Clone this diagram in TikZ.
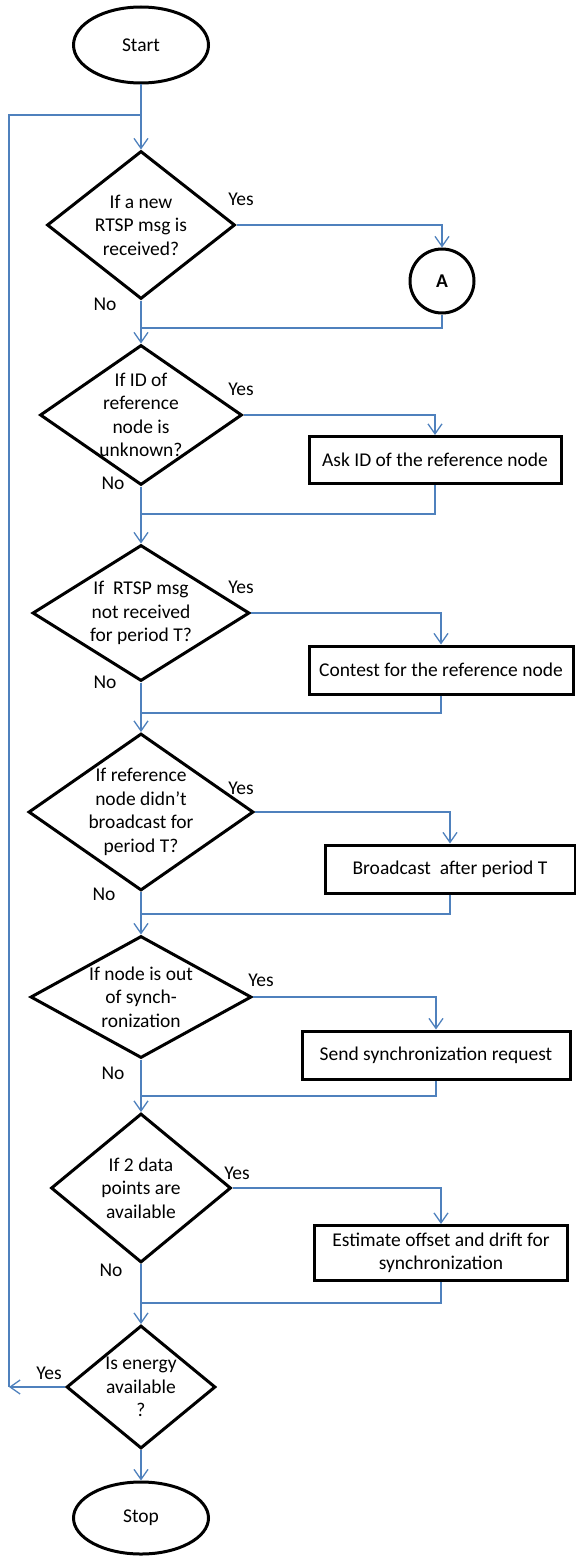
\documentclass[tikz,border=0pt]{standalone}
\usepackage{fontspec}
\setmainfont{Carlito}
\usepackage{tikz}
\usetikzlibrary{shapes.geometric,arrows.meta}

\definecolor{flowblue}{RGB}{79,129,189}

\begin{document}
\begin{tikzpicture}[x=1bp, y=-1bp,
		every node/.style={font=\fontsize{19.5bp}{23.5bp}\selectfont},
		term/.style={draw, ellipse, line width=3bp, inner sep=0pt},
		dec/.style={draw, diamond, line width=3bp, inner sep=0pt},
		proc/.style={draw, rectangle, line width=3bp, align=center, inner sep=0pt},
		txt/.style={align=center, inner sep=0pt},
		flow/.style={draw=flowblue, line width=1.3bp, -{Straight Barb[length=10bp, width=14bp]}},
		link/.style={draw=flowblue, line width=1.3bp}]
		\useasboundingbox (0,0) rectangle (576,1557);

		\node[term, minimum width=135bp, minimum height=76bp] (start) at (141,45) {Start};

		\node[dec, minimum width=188bp, minimum height=148bp] (qmsg) at (141,225) {};
		\node[txt] (qmsgtxt) at (qmsg) {If a new\\RTSP msg is\\received?};
		\node[draw, circle, line width=3bp, minimum size=64bp, inner sep=0pt,
			font=\fontsize{19.5bp}{23.5bp}\selectfont\bfseries] (conA) at (442,281) {A};

		\node[dec, minimum width=202bp, minimum height=140bp] (qid) at (141,415) {};
		\node[txt] (qidtxt) at (qid) {If ID of\\reference\\node is\\unknown?};
		\node[proc, minimum width=252bp, minimum height=47bp] (askid) at (435,460) {Ask ID of the reference node};

		\node[dec, minimum width=217bp, minimum height=136bp] (qrtsp) at (141,613) {};
		\node[txt] (qrtsptxt) at (qrtsp) {If\ \ RTSP msg\\not received\\for period T?};
		\node[proc, minimum width=264bp, minimum height=48bp] (contest) at (441,670) {Contest for the reference node};

		\node[dec, minimum width=225bp, minimum height=157bp] (qbcast) at (141,812) {};
		\node[txt] (qbcasttxt) at (qbcast) {If reference\\node didn’t\\broadcast for\\period T?};
		\node[proc, minimum width=250bp, minimum height=48bp] (bcast) at (450,869) {Broadcast\ \ after period T};

		\node[dec, minimum width=221bp, minimum height=122bp] (qsync) at (141,997) {};
		\node[txt] (qsynctxt) at (qsync) {If node is out\\of synch-\\ronization};
		\node[proc, minimum width=268bp, minimum height=48bp] (sendreq) at (436,1055) {Send synchronization request};

		\node[dec, minimum width=180bp, minimum height=149bp] (qdata) at (141,1188) {};
		\node[txt] (qdatatxt) at (qdata) {If 2 data\\points are\\available};
		\node[proc, minimum width=253bp, minimum height=55bp] (estimate) at (441,1253) {Estimate offset and drift for\\synchronization};

		\node[dec, minimum width=149bp, minimum height=123bp] (qenergy) at (141,1387) {};
		\node[txt] (qenergytxt) at (qenergy) {Is energy\\available\\?};

		\node[term, minimum width=135bp, minimum height=72bp] (stop) at (141,1518) {Stop};

		\node (yes1) at (241,199) {Yes};
		\node (no1) at (105,304) {No};
		\node (yes2) at (241,389) {Yes};
		\node (no2) at (113,483) {No};
		\node (yes3) at (241,587) {Yes};
		\node (no3) at (105,682) {No};
		\node (yes4) at (241,788) {Yes};
		\node (no4) at (104,894) {No};
		\node (yes5) at (261,980) {Yes};
		\node (no5) at (113,1073) {No};
		\node (yes6) at (237,1173) {Yes};
		\node (no6) at (111,1270) {No};
		\node (yes7) at (49,1373) {Yes};

		\coordinate (jtop) at (141,115);
		\coordinate (j1) at (141,328);
		\coordinate (j2) at (141,514);
		\coordinate (j3) at (141,713);
		\coordinate (j4) at (141,914);
		\coordinate (j5) at (141,1096);
		\coordinate (j6) at (141,1303);
		\coordinate (jleft) at (9,1387);

		\draw[flow] (start) -- (qmsg);
		\draw[flow] (qmsg) -- (qid);
		\draw[flow] (qid) -- (qrtsp);
		\draw[flow] (qrtsp) -- (qbcast);
		\draw[flow] (qbcast) -- (qsync);
		\draw[flow] (qsync) -- (qdata);
		\draw[flow] (qdata) -- (qenergy);
		\draw[flow] (qenergy) -- (stop);

		\draw[flow] (qmsg.east) -| (conA.north);
		\draw[link] (conA.south) |- (j1);
		\draw[flow] (qid.east) -| (askid.north);
		\draw[link] (askid.south) |- (j2);
		\draw[flow] (qrtsp.east) -| (contest.north);
		\draw[link] (contest.south) |- (j3);
		\draw[flow] (qbcast.east) -| (bcast.north);
		\draw[link] (bcast.south) |- (j4);
		\draw[flow] (qsync.east) -| (sendreq.north);
		\draw[link] (sendreq.south) |- (j5);
		\draw[flow] (qdata.east) -| (estimate.north);
		\draw[link] (estimate.south) |- (j6);

		\draw[flow] (qenergy.west) -- (jleft);
		\draw[link] (jleft) |- (jtop);

	\end{tikzpicture}
\end{document}
